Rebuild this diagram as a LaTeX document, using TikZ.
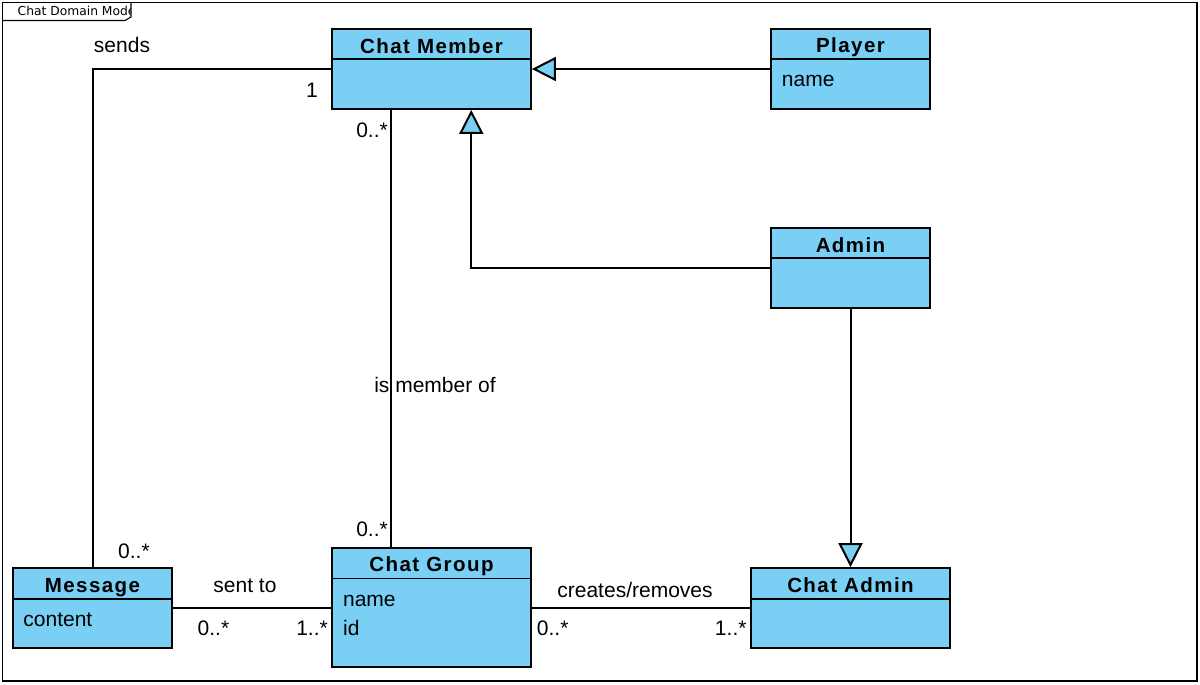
\documentclass[tikz,border=0pt]{standalone}
\usepackage{fontspec}
\setmainfont{Liberation Sans}
\newfontfamily\hdfont[LetterSpace=7]{Liberation Sans Bold}
\newfontfamily\tabfont{DejaVu Sans}
\usetikzlibrary{arrows.meta,calc}
\definecolor{boxblue}{RGB}{122,207,244}
\tikzset{
  classbox/.style={draw=black, fill=boxblue, line width=1.8pt, inner sep=0pt, rectangle},
  divline/.style={line width=1.8pt},
  conn/.style={line width=2pt, line join=miter},
  gen/.style={conn, -{Triangle[fill=boxblue, length=24pt, width=24pt, line join=miter]}},
  hd/.style={font=\hdfont\fontsize{20.5}{24}\selectfont, anchor=base, inner sep=0pt},
  attr/.style={font=\fontsize{21}{24}\selectfont, anchor=base west, inner sep=0pt},
  lbl/.style={font=\fontsize{21}{24}\selectfont, inner sep=0pt},
}
\begin{document}
\begin{tikzpicture}[x=1pt,y=-1pt]
\useasboundingbox (0,0) rectangle (1200,685);
% frame
\draw[line width=1.1pt] (2.5,2.5) rectangle (1197,681);
\draw[line width=1.1pt] (2.5,20.5) -- (125,20.5) -- (131,17) -- (131,2.5);
\begin{scope}
\clip (2.5,2.5) rectangle (130.5,20);
\node[font=\tabfont\fontsize{12.3}{14}\selectfont, anchor=base west, inner sep=0pt] (tab) at (17.5,16) {Chat Domain Model};
\end{scope}
% classes
\node[classbox, minimum width=199pt, minimum height=80pt] (cm) at (431.5,69) {};
\draw[divline] (332,59) -- (531,59);
\node[hd] (cmt) at (431.5,53.3) {Chat Member};

\node[classbox, minimum width=159pt, minimum height=80pt] (pl) at (850.5,69) {};
\draw[divline] (771,59) -- (930,59);
\node[hd] (plt) at (850.5,52.7) {Player};
\node[attr] (pla) at (781.7,87) {name};

\node[classbox, minimum width=159pt, minimum height=80pt] (ad) at (850.5,268) {};
\draw[divline] (771,258) -- (930,258);
\node[hd] (adt) at (850.5,252.7) {Admin};

\node[classbox, minimum width=159pt, minimum height=80pt] (msg) at (92.5,608) {};
\draw[divline] (13,599) -- (172,599);
\node[hd] (msgt) at (92.5,592.7) {Message};
\node[attr] (msga) at (23.2,626.7) {content};

\node[classbox, minimum width=199pt, minimum height=119pt] (cg) at (431.5,607.5) {};
\draw[divline] (332,578.5) -- (531,578.5);
\node[hd] (cgt) at (431.5,571.7) {Chat Group};
\node[attr] (cga) at (342.9,606) {name};
\node[attr] (cgb) at (342.9,635) {id};

\node[classbox, minimum width=199pt, minimum height=80pt] (ca) at (850.5,608) {};
\draw[divline] (751,599) -- (950,599);
\node[hd] (cat) at (850.5,592.3) {Chat Admin};

% connectors
\draw[conn] (cm.west) -| (msg.north);
\draw[gen] (pl.west) -- (cm.east);
\draw[gen] (ad.west) -| ($(cm.south west)!0.698!(cm.south east)$);
\draw[gen] (ad.south) -- (ca.north);
\draw[conn] ($(cm.south west)!0.3!(cm.south east)$) -- ($(cg.north west)!0.3!(cg.north east)$);
\draw[conn] (msg.east) -- (msg.east -| cg.west);
\draw[conn] (cg.east |- ca.west) -- (ca.west);

% labels
\node[lbl, anchor=base] (l1) at (122,53) {sends};
\node[lbl, anchor=base] (l2) at (312,97) {1};
\node[lbl, anchor=base east] (l3) at (388,137) {0..*};
\node[lbl, anchor=base] (l4) at (435,392) {is member of};
\node[lbl, anchor=base east] (l5) at (388,536) {0..*};
\node[lbl, anchor=base west] (l6) at (118,558) {0..*};
\node[lbl, anchor=base] (l7) at (245,592.7) {sent to};
\node[lbl, anchor=base west] (l8) at (197.5,635) {0..*};
\node[lbl, anchor=base east] (l9) at (328,635) {1..*};
\node[lbl, anchor=base] (l10) at (635,597.7) {creates/removes};
\node[lbl, anchor=base west] (l11) at (536.7,635) {0..*};
\node[lbl, anchor=base east] (l12) at (746.7,635) {1..*};
\end{tikzpicture}
\end{document}
